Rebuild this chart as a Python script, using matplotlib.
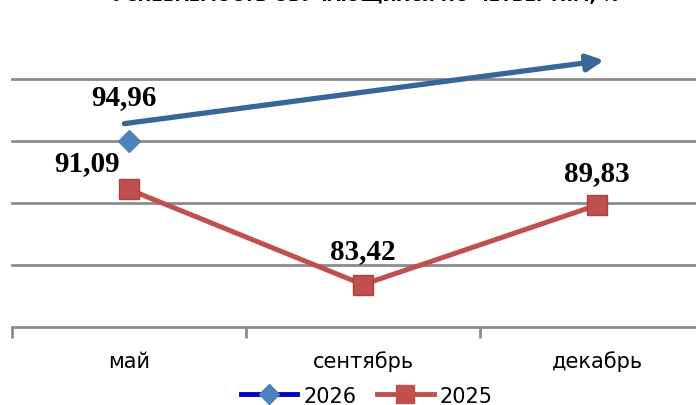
import matplotlib
matplotlib.use('Agg')
import matplotlib.pyplot as plt
from matplotlib.lines import Line2D

months = ['май', 'сентябрь', 'декабрь']
y2025 = [91.09, 83.42, 89.83]
y2026 = [94.96]
labels2025 = ['91,09', '83,42', '89,83']
labels2026 = ['94,96']

blue = '#4F81BD'
red = '#C0504D'
grid = '#8C8C8C'

fig = plt.figure(figsize=(6.96, 4.06), dpi=100)
ax = fig.add_axes([12 / 696, 78 / 406, 702 / 696, 248 / 406])

x = list(range(len(months)))
ax.plot(x, y2025, color=red, lw=3.6, marker='s', ms=14,
        mfc=red, mec='#B0403D', mew=1, solid_joinstyle='miter', zorder=3)
ax.plot(x[:len(y2026)], y2026, color=blue, lw=3, marker='D', ms=11,
        mfc=blue, mec=blue, ls='none', zorder=3)

# тренд-стрелка
ax.annotate('', xy=(2.03, 101.5), xytext=(-0.02, 96.4),
            arrowprops=dict(arrowstyle='-|>,head_length=1.0,head_width=0.5',
                            color='#3A6598', lw=3.8, shrinkA=0, shrinkB=0),
            annotation_clip=False, zorder=4)

lab_font = dict(family='Liberation Serif', fontweight='bold', fontsize=21,
                ha='center', va='center', color='black')
ax.text(-0.18, 93.3, labels2025[0], **lab_font)
ax.text(1, 86.2, labels2025[1], **lab_font)
ax.text(2, 92.45, labels2025[2], **lab_font)
ax.text(-0.02, 98.6, labels2026[0], **lab_font)

ax.set_xlim(-0.5, 2.5)
ax.set_ylim(80, 100)
ax.set_yticks([85, 90, 95, 100])
ax.yaxis.grid(True, color=grid, lw=2)
for gl in ax.get_ygridlines():
    gl.set_clip_on(False)
ax.tick_params(axis='y', length=0, labelleft=False)
ax.set_xticks([-0.5, 0.5, 1.5, 2.5])
ax.set_xticklabels([])
ax.tick_params(axis='x', length=8, width=2, color=grid, direction='out')
ax.set_xticks(x, minor=True)
ax.set_xticklabels(months, minor=True, fontsize=15, family='DejaVu Sans')
ax.tick_params(axis='x', which='minor', length=0, pad=17)
for s in ['top', 'right']:
    ax.spines[s].set_visible(False)
ax.spines['left'].set_visible(False)
ax.spines['bottom'].set_color(grid)
ax.spines['bottom'].set_linewidth(2)

fig.text(0.525, 1.01, 'УСПЕВАЕМОСТЬ ОБУЧАЮЩИХСЯ ПО ЧЕТВЕРТЯМ, %',
         ha='center', va='center', fontsize=12.2, fontweight='bold',
         family='DejaVu Sans')

handles = [Line2D([], [], color='#0000CC', lw=3.5, marker='D', ms=10,
                  mfc=blue, mec=blue),
           Line2D([], [], color=red, lw=3.5, marker='s', ms=13,
                  mfc=red, mec=red)]
fig.legend(handles, ['2026', '2025'], loc='center', bbox_to_anchor=(0.527, 0.023),
           ncol=2, frameon=False, fontsize=15, handlelength=2.7,
           columnspacing=1.0, handletextpad=0.3, borderaxespad=0)

fig.savefig('out.png', dpi=100)
